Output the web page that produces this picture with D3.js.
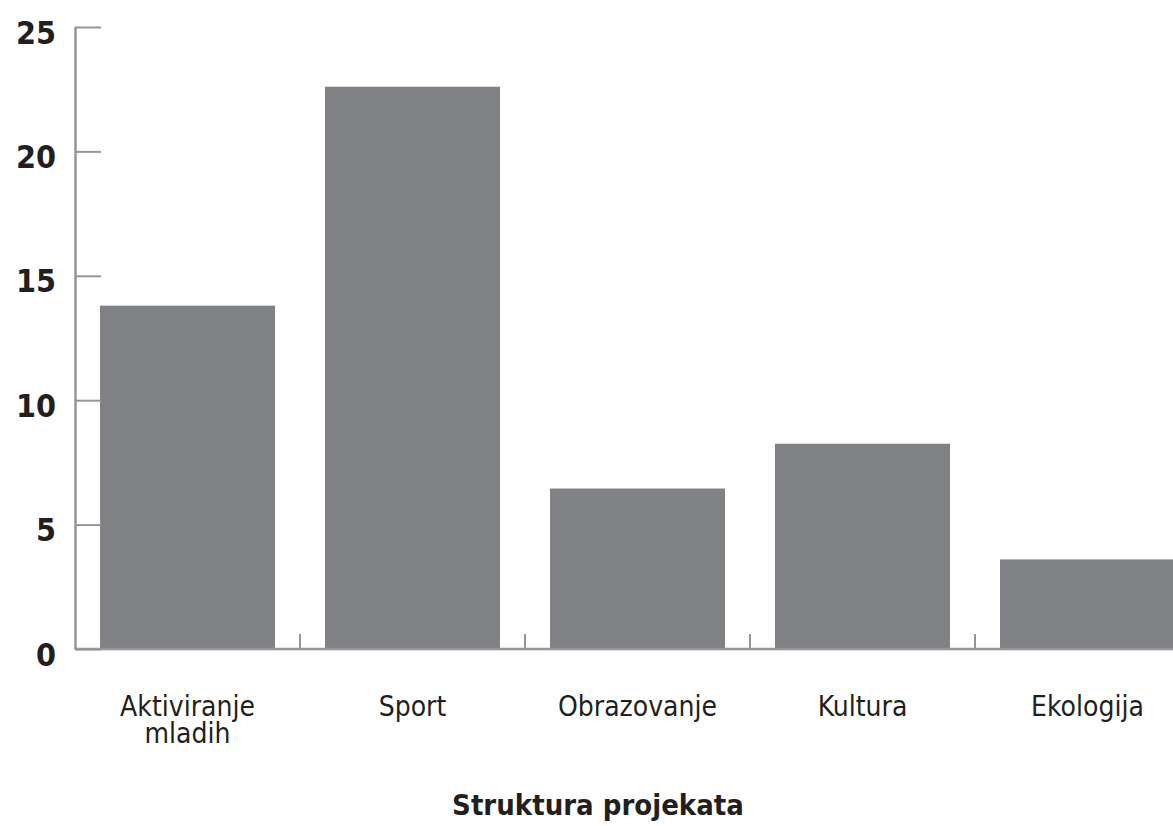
<!DOCTYPE html>
<html>
<head>
<meta charset="utf-8">
<script src="https://cdn.jsdelivr.net/npm/d3@7"></script>
<style>
  html, body { margin: 0; padding: 0; background: #fff; overflow: hidden; }
  svg { display: block; }
  .cat text { font-family: "Liberation Sans Narrow", "DejaVu Sans Condensed", sans-serif; }
</style>
</head>
<body>
<svg width="1173" height="826"></svg>
<script>
var categories = [["Aktiviranje", "mladih"], ["Sport"], ["Obrazovanje"], ["Kultura"], ["Ekologija"]];
var values = [13.8, 22.6, 6.45, 8.25, 3.6];
var yTicks = [0, 5, 10, 15, 20, 25];
var title = "Struktura projekata";

var svg = d3.select("svg"),
    plotLeft = 75, plotRight = 1200, plotTop = 27, plotBottom = 649;

var x = d3.scaleBand()
    .domain(d3.range(categories.length))
    .range([plotLeft, plotRight])
    .paddingInner(50 / 225)
    .paddingOuter(25 / 225);

var y = d3.scaleLinear()
    .domain([0, 25])
    .range([plotBottom, plotTop]);

var axisColor = "#939598",
    textColor = "#231f20";

// bars
svg.append("g")
    .selectAll("rect")
    .data(values)
    .join("rect")
    .attr("x", (d, i) => x(i))
    .attr("y", d => y(d))
    .attr("width", x.bandwidth())
    .attr("height", d => y(0) - y(d))
    .attr("fill", "#808184");

// y axis
var yAxis = svg.append("g")
    .attr("transform", "translate(" + plotLeft + ",0)")
    .call(d3.axisRight(y).tickValues(yTicks).tickSize(26).tickSizeOuter(0).tickFormat(d3.format("d")));
yAxis.select(".domain").attr("stroke", axisColor).attr("stroke-width", 2.5);
yAxis.selectAll(".tick line").attr("stroke", axisColor).attr("stroke-width", 2);
yAxis.selectAll(".tick text")
    .attr("x", -19)
    .attr("dy", "0.5em")
    .attr("text-anchor", "end")
    .attr("fill", textColor)
    .style("font-family", "'DejaVu Sans Condensed', 'DejaVu Sans', sans-serif")
    .style("font-weight", "bold")
    .style("font-size", "32px");

// baseline and separators between categories
var step = x.step();
svg.append("line")
    .attr("x1", plotLeft).attr("x2", plotRight)
    .attr("y1", y(0)).attr("y2", y(0))
    .attr("stroke", axisColor).attr("stroke-width", 2.5);

svg.append("g")
    .selectAll("line")
    .data(d3.range(1, categories.length))
    .join("line")
    .attr("x1", i => x(i) - (step - x.bandwidth()) / 2)
    .attr("x2", i => x(i) - (step - x.bandwidth()) / 2)
    .attr("y1", y(0))
    .attr("y2", y(0) - 15)
    .attr("stroke", axisColor)
    .attr("stroke-width", 2);

// category labels
svg.append("g")
    .attr("class", "cat")
    .selectAll("text")
    .data(categories)
    .join("text")
    .attr("x", (d, i) => x(i) + x.bandwidth() / 2)
    .attr("y", 716)
    .attr("text-anchor", "middle")
    .attr("fill", textColor)
    .style("font-size", "28px")
    .selectAll("tspan")
    .data(d => d)
    .join("tspan")
    .attr("x", function () { return d3.select(this.parentNode).attr("x"); })
    .attr("dy", (d, i) => i ? 27 : 0)
    .text(d => d);

// title
svg.append("text")
    .attr("x", 598)
    .attr("y", 815)
    .attr("text-anchor", "middle")
    .attr("fill", textColor)
    .style("font-family", "'DejaVu Sans Condensed', 'DejaVu Sans', sans-serif")
    .style("font-weight", "bold")
    .style("font-size", "29px")
    .text(title);
</script>
</body>
</html>
